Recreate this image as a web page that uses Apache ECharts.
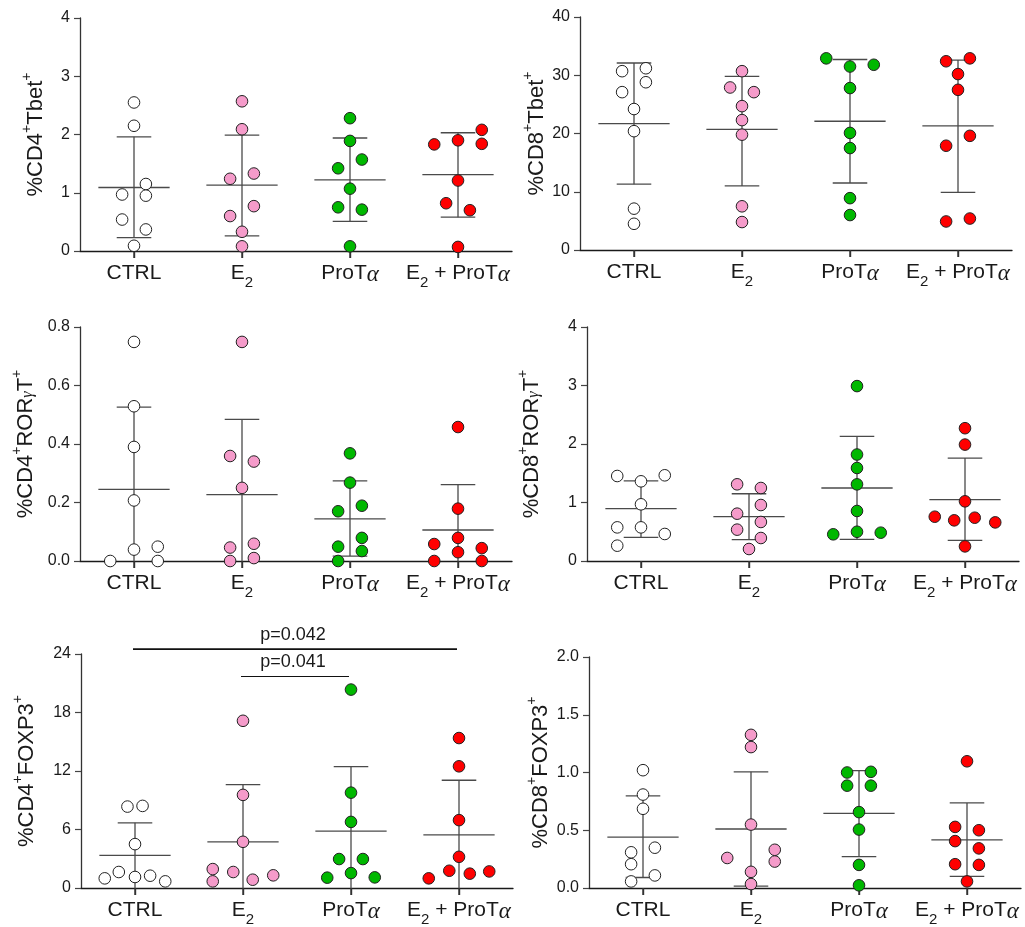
<!DOCTYPE html>
<html lang="en">
<head>
<meta charset="UTF-8">
<title>CD4 / CD8 subsets</title>
<script src="https://cdn.jsdelivr.net/npm/echarts@6/dist/echarts.min.js"></script>
<style>
  html, body { margin: 0; padding: 0; background: #fff; }
  #main { width: 1025px; height: 927px; }
</style>
</head>
<body>
<div id="main"></div>
<script>
// groups shown on every x axis
var groups = ['CTRL', 'E2', 'ProTα', 'E2 + ProTα'];
var groupColors = ['#ffffff', '#f59bca', '#00b800', '#ff0000'];

// %CD4+Tbet+
var cd4TbetValues = [
  [2.55, 2.15, 1.15, 0.97, 0.95, 0.54, 0.37, 0.09],
  [2.57, 2.09, 1.33, 1.24, 0.77, 0.60, 0.33, 0.08],
  [2.28, 1.89, 1.57, 1.42, 1.07, 0.75, 0.71, 0.08],
  [2.08, 1.90, 1.84, 1.83, 1.21, 0.82, 0.70, 0.07]
];
var cd4TbetJitter = [
  [0, 0, 0.11, -0.11, 0.11, -0.11, 0.11, 0],
  [0, 0, 0.11, -0.11, 0.11, -0.11, 0, 0],
  [0, 0, 0.11, -0.11, 0, -0.11, 0.11, 0],
  [0.22, 0, 0.22, -0.22, 0, -0.11, 0.11, 0]
];
var cd4TbetMean = [1.09, 1.13, 1.22, 1.31];
var cd4TbetUpper = [1.96, 1.99, 1.94, 2.03];
var cd4TbetLower = [0.23, 0.26, 0.51, 0.58];

// %CD8+Tbet+
var cd8TbetValues = [
  [31.2, 30.7, 28.8, 27.1, 24.2, 20.4, 7.1, 4.5],
  [30.7, 27.9, 27.1, 24.7, 22.3, 19.8, 7.5, 4.8],
  [32.9, 31.8, 31.5, 27.8, 20.1, 17.5, 8.9, 6.0],
  [32.9, 32.4, 30.2, 27.5, 19.6, 17.9, 5.4, 4.9]
];
var cd8TbetJitter = [
  [0.11, -0.11, 0.11, -0.11, 0, 0, 0, 0],
  [0, -0.11, 0.11, 0, 0, 0, 0, 0],
  [-0.22, 0.22, 0, 0, 0, 0, 0, 0],
  [0.11, -0.11, 0, 0, 0.11, -0.11, 0.11, -0.11]
];
var cd8TbetMean = [21.7, 20.7, 22.1, 21.3];
var cd8TbetUpper = [32.1, 29.8, 32.7, 32.6];
var cd8TbetLower = [11.3, 11.0, 11.5, 9.9];

// %CD4+RORyT+
var cd4RorValues = [
  [0.749, 0.529, 0.390, 0.207, 0.049, 0.039, 0, 0],
  [0.749, 0.359, 0.340, 0.250, 0.059, 0.046, 0.010, 0],
  [0.368, 0.268, 0.189, 0.170, 0.079, 0.049, 0.034, 0],
  [0.458, 0.179, 0.079, 0.058, 0.044, 0.030, 0, 0]
];
var cd4RorJitter = [
  [0, 0, 0, 0, 0.22, 0, -0.22, 0.22],
  [0, -0.11, 0.11, 0, 0.11, -0.11, 0.11, -0.11],
  [0, 0, 0.11, -0.11, 0.11, -0.11, 0.11, -0.11],
  [0, 0, 0, -0.22, 0.22, 0, -0.22, 0.22]
];
var cd4RorMean = [0.245, 0.227, 0.144, 0.106];
var cd4RorUpper = [0.526, 0.484, 0.274, 0.261];
var cd4RorLower = [-0.036, -0.03, 0.017, -0.05];

// %CD8+RORyT+
var cd8RorValues = [
  [1.465, 1.453, 1.362, 0.969, 0.575, 0.575, 0.462, 0.262],
  [1.311, 1.248, 0.957, 0.809, 0.667, 0.536, 0.393, 0.205],
  [2.99, 1.82, 1.59, 1.31, 0.855, 0.50, 0.484, 0.456],
  [2.27, 1.99, 1.02, 0.757, 0.74, 0.695, 0.66, 0.25]
];
var cd8RorJitter = [
  [0.22, -0.22, 0, 0, -0.22, 0, 0.22, -0.22],
  [-0.11, 0.11, 0.11, -0.11, 0.11, -0.11, 0.11, 0],
  [0, 0, 0, 0, 0, 0, 0.22, -0.22],
  [0, 0, 0, -0.28, 0.09, -0.10, 0.28, 0]
];
var cd8RorMean = [0.895, 0.758, 1.248, 1.048];
var cd8RorUpper = [1.37, 1.15, 2.13, 1.76];
var cd8RorLower = [0.405, 0.365, 0.37, 0.353];

// %CD4+FOXP3+
var cd4FoxValues = [
  [8.42, 8.35, 4.5, 1.64, 1.26, 1.13, 0.99, 0.68],
  [17.15, 9.55, 4.74, 1.94, 1.64, 1.30, 0.85, 0.68],
  [20.35, 9.78, 6.78, 2.97, 2.97, 1.53, 1.09, 1.06],
  [15.38, 12.48, 6.96, 3.2, 1.77, 1.70, 1.47, 0.99]
];
var cd4FoxJitter = [
  [0.07, -0.07, 0, -0.15, 0.14, 0, -0.28, 0.28],
  [0, 0, 0, -0.28, -0.09, 0.28, 0.09, -0.28],
  [0, 0, 0, -0.11, 0.11, 0, 0.22, -0.22],
  [0, 0, 0, 0, -0.09, 0.28, 0.10, -0.28]
];
var cd4FoxMean = [3.34, 4.74, 5.83, 5.45];
var cd4FoxUpper = [6.68, 10.6, 12.44, 11.05];
var cd4FoxLower = [-0.1, -1.1, -0.8, -0.15];
// significance brackets: [from group, to group, height]
var cd4FoxBrackets = [[0, 3, 24.5], [1, 2, 21.7]];
var cd4FoxPValues = ['p=0.042', 'p=0.041'];

// %CD8+FOXP3+
var cd8FoxValues = [
  [1.02, 0.809, 0.686, 0.349, 0.309, 0.206, 0.109, 0.057],
  [1.326, 1.22, 0.549, 0.331, 0.26, 0.229, 0.14, 0.034],
  [1.006, 1.0, 0.886, 0.886, 0.657, 0.506, 0.2, 0.023],
  [1.097, 0.529, 0.50, 0.406, 0.343, 0.206, 0.2, 0.057]
];
var cd8FoxJitter = [
  [0, 0, 0, 0.11, -0.11, -0.11, 0.11, -0.11],
  [0, 0, 0, 0.22, -0.22, 0.22, 0, 0],
  [0.11, -0.11, -0.11, 0.11, 0, 0, 0, 0],
  [0, -0.11, 0.11, -0.11, 0.11, -0.11, 0.11, 0]
];
var cd8FoxMean = [0.44, 0.511, 0.646, 0.417];
var cd8FoxUpper = [0.797, 1.006, 1.017, 0.737];
var cd8FoxLower = [0.091, 0.017, 0.271, 0.10];

var panels = [
  { name: '%CD4+Tbet+', values: cd4TbetValues, jitter: cd4TbetJitter, mean: cd4TbetMean, upper: cd4TbetUpper, lower: cd4TbetLower,
    max: 4, interval: 1, digits: 0, grid: [80, 18, 432, 233], nameGap: 38 },
  { name: '%CD8+Tbet+', values: cd8TbetValues, jitter: cd8TbetJitter, mean: cd8TbetMean, upper: cd8TbetUpper, lower: cd8TbetLower,
    max: 40, interval: 10, digits: 0, grid: [580, 17, 432, 233], nameGap: 34 },
  { name: '%CD4+RORγT+', values: cd4RorValues, jitter: cd4RorJitter, mean: cd4RorMean, upper: cd4RorUpper, lower: cd4RorLower,
    max: 0.8, interval: 0.2, digits: 1, grid: [80, 327, 432, 234], nameGap: 48 },
  { name: '%CD8+RORγT+', values: cd8RorValues, jitter: cd8RorJitter, mean: cd8RorMean, upper: cd8RorUpper, lower: cd8RorLower,
    max: 4, interval: 1, digits: 0, grid: [587, 327, 432, 234], nameGap: 49 },
  { name: '%CD4+FOXP3+', values: cd4FoxValues, jitter: cd4FoxJitter, mean: cd4FoxMean, upper: cd4FoxUpper, lower: cd4FoxLower,
    max: 24, interval: 6, digits: 0, grid: [81, 654, 432, 234], nameGap: 48 },
  { name: '%CD8+FOXP3+', values: cd8FoxValues, jitter: cd8FoxJitter, mean: cd8FoxMean, upper: cd8FoxUpper, lower: cd8FoxLower,
    max: 2, interval: 0.5, digits: 1, grid: [589, 657, 432, 233], nameGap: 42 }
];

var FONT = 'Liberation Sans, Arial, sans-serif';
var INK = '#1a1a1a';

function richCategory(s) {
  return s.split(/(E2|α)/).filter(Boolean).map(function (t) {
    if (t === 'E2') return '{m|E}{s|2}';
    if (t === 'α') return '{a|α}';
    return '{m|' + t + '}';
  }).join('');
}
function richName(s) {
  return s.split(/(\+|γ)/).filter(Boolean).map(function (t) {
    if (t === '+') return '{p|+}';
    if (t === 'γ') return '{g|γ}';
    return '{n|' + t + '}';
  }).join('');
}

var grids = [], xAxes = [], yAxes = [], series = [];

panels.forEach(function (p, i) {
  grids.push({ left: p.grid[0], top: p.grid[1], width: p.grid[2], height: p.grid[3] });
  xAxes.push({
    type: 'category', gridIndex: i, data: groups,
    axisLine: { show: true, lineStyle: { color: INK, width: 1.3 } },
    axisTick: { show: true, alignWithLabel: true, interval: 0, length: 7, lineStyle: { color: '#333', width: 1.4 } },
    axisLabel: {
      interval: 0, hideOverlap: false, margin: 12, color: INK,
      formatter: function (v) { return richCategory(v); },
      rich: {
        m: { fontFamily: FONT, fontSize: 21, lineHeight: 22, color: INK, verticalAlign: 'top' },
        s: { fontFamily: FONT, fontSize: 15, lineHeight: 15, color: INK, verticalAlign: 'top', padding: [12, 0, 0, 0] },
        a: { fontFamily: 'Liberation Serif, serif', fontStyle: 'italic', fontSize: 23, lineHeight: 22, color: INK, verticalAlign: 'top' }
      }
    },
    splitLine: { show: false }
  });
  yAxes.push({
    type: 'value', gridIndex: i, min: 0, max: p.max, interval: p.interval,
    name: richName(p.name), nameLocation: 'middle', nameRotate: 90, nameGap: p.nameGap,
    nameTextStyle: {
      rich: {
        n: { fontFamily: FONT, fontSize: 22, lineHeight: 22, color: INK, verticalAlign: 'top', padding: [5, 0, 0, 0] },
        p: { fontFamily: FONT, fontSize: 14, lineHeight: 14, color: INK, verticalAlign: 'top' },
        g: { fontFamily: 'Liberation Serif, serif', fontStyle: 'italic', fontSize: 16, lineHeight: 16, color: INK, verticalAlign: 'top', padding: [10, 0, 0, 0] }
      }
    },
    axisLine: { show: true, lineStyle: { color: '#333', width: 1.3 } },
    axisTick: { show: true, length: 6, lineStyle: { color: '#444', width: 1.2 } },
    axisLabel: {
      margin: 10, fontFamily: FONT, fontSize: 16, color: INK,
      formatter: (function (d) { return function (v) { return v.toFixed(d); }; })(p.digits)
    },
    splitLine: { show: false }
  });

  // mean +/- SD bars, plus a tick under the x axis at each group
  var barData = p.mean.map(function (m, g) { return [g, m, p.upper[g], p.lower[g]]; });
  series.push({
    type: 'custom', xAxisIndex: i, yAxisIndex: i, z: 2, silent: true, clip: false,
    data: barData,
    renderItem: function (params, api) {
      var g = api.value(0);
      var bw = api.size([1, 0])[0];
      var mid = api.coord([g, api.value(1)]);
      var top = api.coord([g, api.value(2)]);
      var low = api.value(3);
      var bottom = api.coord([g, Math.max(low, 0)]);
      var base = api.coord([g, 0]);
      var st = { stroke: '#4a4a4a', lineWidth: 1.3 };
      var x = mid[0], cap = bw * 0.16, half = bw * 0.33;
      var kids = [
        { type: 'line', shape: { x1: x - half, y1: mid[1], x2: x + half, y2: mid[1] }, style: st },
        { type: 'line', shape: { x1: x, y1: top[1], x2: x, y2: bottom[1] }, style: st },
        { type: 'line', shape: { x1: x - cap, y1: top[1], x2: x + cap, y2: top[1] }, style: st },
        { type: 'rect', shape: { x: x - 0.7, y: base[1], width: 1.4, height: 7 }, style: { fill: '#333' } }
      ];
      if (low > 0) {
        kids.push({ type: 'line', shape: { x1: x - cap, y1: bottom[1], x2: x + cap, y2: bottom[1] }, style: st });
      }
      return { type: 'group', children: kids };
    }
  });

  // individual animals
  var pts = [];
  p.values.forEach(function (arr, g) {
    arr.forEach(function (v, k) { pts.push([g, v, p.jitter[g][k]]); });
  });
  series.push({
    type: 'custom', xAxisIndex: i, yAxisIndex: i, z: 3, silent: true,
    data: pts,
    renderItem: function (params, api) {
      var g = api.value(0);
      var c = api.coord([g, api.value(1)]);
      var bw = api.size([1, 0])[0];
      return {
        type: 'circle',
        shape: { cx: c[0] + api.value(2) * bw, cy: c[1], r: 5.8 },
        style: { fill: groupColors[g], stroke: '#222', lineWidth: 1 }
      };
    }
  });
});

// p-value brackets on the CD4 FOXP3 panel
series.push({
  type: 'custom', xAxisIndex: 4, yAxisIndex: 4, z: 4, silent: true, clip: false,
  data: cd4FoxBrackets,
  renderItem: function (params, api) {
    var a = api.coord([api.value(0), api.value(2)]);
    var b = api.coord([api.value(1), api.value(2)]);
    return {
      type: 'group',
      children: [
        { type: 'line', shape: { x1: a[0] - 2, y1: a[1], x2: b[0] - 2, y2: b[1] },
          style: { stroke: '#111', lineWidth: params.dataIndex === 0 ? 1.8 : 1.1 } },
        { type: 'text', style: { text: cd4FoxPValues[params.dataIndex], x: (a[0] + b[0]) / 2 - 4, y: a[1] - 5,
          align: 'center', verticalAlign: 'bottom', fontFamily: FONT, fontSize: 18, fill: INK } }
      ]
    };
  }
});

var option = {
  animation: false,
  backgroundColor: '#ffffff',
  grid: grids,
  xAxis: xAxes,
  yAxis: yAxes,
  series: series
};

var myChart = echarts.init(document.getElementById('main'));
myChart.setOption(option);
</script>
</body>
</html>
